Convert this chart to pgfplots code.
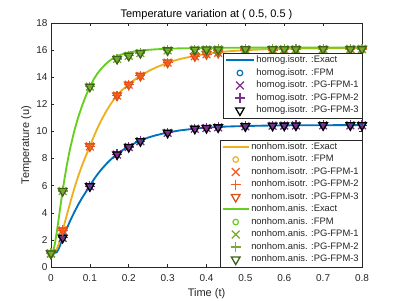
\documentclass[border=0pt]{standalone}
\usepackage{pgfplots}
\pgfplotsset{compat=1.18}
\usepackage{pgfplotstable}
\usepackage{fontspec}
\setmainfont{Liberation Sans}

\definecolor{axisgray}{RGB}{38,38,38}
\definecolor{hLine}{RGB}{0,114,189}
\definecolor{hPG}{RGB}{126,47,142}
\definecolor{hTri}{RGB}{0,0,0}
\definecolor{iLine}{RGB}{237,177,32}
\definecolor{iPG}{RGB}{250,88,30}
\definecolor{iTri}{RGB}{217,83,25}
\definecolor{aLine}{RGB}{102,206,30}
\definecolor{aPG}{RGB}{119,172,48}
\definecolor{aTri}{RGB}{62,98,22}

\pgfplotstableread{
t      h      i      a
0      1.00   1.00   1.00
0.005  1.00   1.02   1.15
0.01   1.02   1.12   1.70
0.015  1.10   1.35   2.60
0.02   1.35   1.70   3.60
0.025  1.72   2.15   4.65
0.03   2.15   2.70   5.65
0.035  2.48   3.22   6.55
0.04   2.80   3.75   7.40
0.045  3.13   4.28   8.15
0.05   3.45   4.80   8.85
0.06   4.05   5.80  10.05
0.07   4.60   6.70  11.05
0.08   5.10   7.50  11.90
0.09   5.55   8.22  12.65
0.10   6.00   8.90  13.30
0.11   6.45   9.62  13.85
0.12   6.85  10.27  14.30
0.13   7.21  10.86  14.65
0.14   7.53  11.38  14.95
0.15   7.83  11.86  15.20
0.16   8.09  12.29  15.40
0.17   8.33  12.68  15.55
0.18   8.54  12.97  15.67
0.20   8.91  13.49  15.83
0.22   9.20  13.92  15.93
0.25   9.55  14.44  16.02
0.27   9.72  14.72  16.06
0.30   9.92  15.07  16.10
0.33  10.07  15.33  16.13
0.37  10.21  15.58  16.15
0.40  10.28  15.73  16.16
0.45  10.36  15.90  16.17
0.50  10.40  16.00  16.18
0.55  10.43  16.06  16.18
0.60  10.45  16.10  16.18
0.70  10.46  16.13  16.18
0.80  10.47  16.15  16.18
}\exacttable

\pgfplotstableread{
t      h      i      a
0      1.00   1.00   1.00
0.03   2.15   2.70   5.60
0.10   5.95   8.90  13.30
0.17   8.30  12.65  15.35
0.20   8.85  13.45  15.58
0.23   9.28  14.10  15.78
0.30   9.90  15.08  15.98
0.37  10.20  15.55  16.03
0.40  10.25  15.70  16.04
0.43  10.30  15.80  16.05
0.50  10.38  15.95  16.06
0.57  10.42  16.00  16.06
0.60  10.43  16.03  16.07
0.63  10.44  16.05  16.07
0.70  10.45  16.07  16.07
0.77  10.45  16.08  16.07
0.80  10.45  16.09  16.07
}\marktable

\pgfplotsset{
  legimgA/.style={legend image code/.code={\draw[mark repeat=2,mark phase=2,##1] plot coordinates {(0pt,0pt) (14pt,0pt) (28pt,0pt)};}},
  legimgB/.style={legend image code/.code={\draw[mark repeat=2,mark phase=2,##1] plot coordinates {(0pt,0pt) (13pt,0pt) (26pt,0pt)};}},
  leglineA/.style={legend image code/.code={\draw[##1, line width=1.9pt] (0pt,0.4pt) -- (28pt,0.4pt);}},
  leglineB/.style={legend image code/.code={\draw[##1, line width=1.9pt] (0pt,0.4pt) -- (26pt,0.4pt);}},
  exact/.style={no marks, line width=1.85pt, solid},
  mO/.style={only marks, mark=o, mark size=2.8pt, mark options={solid, line width=1.2pt}},
  mX/.style={only marks, mark=x, mark size=5.5pt, mark options={solid, line width=1.25pt}},
  mP/.style={only marks, mark=+, mark size=5pt, mark options={solid, line width=1.25pt}},
  mT/.style={only marks, mark=triangle, mark size=5pt, mark options={solid, rotate=180, line width=1.3pt}},
  legbox/.style={legend style={font=\fontsize{9.4}{11}\selectfont, draw=axisgray, fill=white,
      inner xsep=1.5pt, inner ysep=1pt, row sep=0pt, text=axisgray,
      nodes={inner sep=1.6pt, text height=7pt, text depth=2.3pt}},
    legend cell align=left},
}

\begin{document}
\begin{tikzpicture}
\useasboundingbox (-51pt,-33pt) rectangle (348pt,267pt);
\begin{axis}[
  at={(0,0)}, anchor=south west, scale only axis,
  width=311pt, height=244pt,
  xmin=0, xmax=0.8, ymin=0, ymax=18,
  xtick={0,0.1,0.2,0.3,0.4,0.5,0.6,0.7,0.8},
  ytick={0,2,4,6,8,10,12,14,16,18},
  xticklabels={0,0.1,0.2,0.3,0.4,0.5,0.6,0.7,0.8},
  yticklabels={0,2,4,6,8,10,12,14,16,18},
  tick align=inside, major tick length=3pt,
  axis line style={axisgray, line width=0.5pt},
  tick style={axisgray, line width=0.5pt},
  ticklabel style={font=\fontsize{10}{12}\selectfont, text=axisgray},
  xticklabel style={yshift=-3.5pt},
  clip=false,
  title={Temperature variation at ( 0.5, 0.5 )},
  title style={font=\fontsize{11}{13}\selectfont, text=black, at={(axis description cs:0.5,1.0205)}, anchor=base, yshift=-5pt},
  xlabel={Time (t)},
  xlabel style={font=\fontsize{11}{13}\selectfont, text=axisgray, at={(axis description cs:0.5,-0.1189)}, anchor=base},
  ylabel={Temperature (u)},
  ylabel style={font=\fontsize{11}{13}\selectfont, text=axisgray, at={(axis description cs:-0.0707,0.5)}, anchor=base},
  legbox,
  legend style={at={(axis description cs:1,0.877)}, anchor=north east},
]
% homogeneous isotropic
\addplot[exact, hLine, leglineA] table[x=t, y=h] {\exacttable};
\addplot[mO, hLine, legimgA] table[x=t, y=h] {\marktable};
\addplot[mX, hPG, legimgA] table[x=t, y=h] {\marktable};
\addplot[mP, hPG, legimgA] table[x=t, y=h] {\marktable};
\addplot[mT, hTri, legimgA] table[x=t, y=h] {\marktable};
% nonhomogeneous isotropic
\addplot[exact, iLine] table[x=t, y=i] {\exacttable};
\addplot[mO, iLine] table[x=t, y=i] {\marktable};
\addplot[mX, iPG] table[x=t, y=i] {\marktable};
\addplot[mP, iPG] table[x=t, y=i] {\marktable};
\addplot[mT, iTri] table[x=t, y=i] {\marktable};
% nonhomogeneous anisotropic
\addplot[exact, aLine] table[x=t, y=a] {\exacttable};
\addplot[mO, aLine] table[x=t, y=a] {\marktable};
\addplot[mX, aPG] table[x=t, y=a] {\marktable};
\addplot[mP, aPG] table[x=t, y=a] {\marktable};
\addplot[mT, aTri] table[x=t, y=a] {\marktable};
\legend{homog.isotr. :Exact, homog.isotr. :FPM, homog.isotr. :PG-FPM-1, homog.isotr. :PG-FPM-2, homog.isotr. :PG-FPM-3}
\end{axis}

\begin{axis}[
  at={(0,0)}, anchor=south west, scale only axis,
  width=311pt, height=244pt,
  xmin=0, xmax=0.8, ymin=0, ymax=18,
  hide axis,
  legbox,
  legend style={at={(axis description cs:1,0)}, anchor=south east},
]
\addlegendimage{exact, iLine, leglineB}
\addlegendimage{mO, iLine, legimgB}
\addlegendimage{mX, iPG, legimgB}
\addlegendimage{mP, iPG, legimgB}
\addlegendimage{mT, iTri, legimgB}
\addlegendimage{exact, aLine, leglineB}
\addlegendimage{mO, aLine, legimgB}
\addlegendimage{mX, aPG, legimgB}
\addlegendimage{mP, aPG, legimgB}
\addlegendimage{mT, aTri, legimgB}
\legend{nonhom.isotr. :Exact, nonhom.isotr. :FPM, nonhom.isotr. :PG-FPM-1, nonhom.isotr. :PG-FPM-2, nonhom.isotr. :PG-FPM-3, nonhom.anis. :Exact, nonhom.anis. :FPM, nonhom.anis. :PG-FPM-1, nonhom.anis. :PG-FPM-2, nonhom.anis. :PG-FPM-3}
\end{axis}
\end{tikzpicture}
\end{document}
